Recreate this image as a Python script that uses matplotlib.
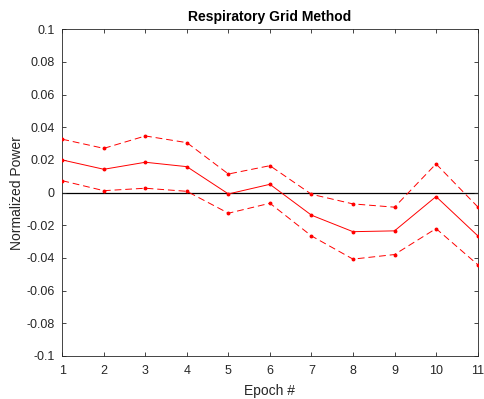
import matplotlib.pyplot as plt

plt.rcParams['font.family'] = ['Liberation Sans', 'DejaVu Sans']

# Data
epochs = [1, 2, 3, 4, 5, 6, 7, 8, 9, 10, 11]
mean_power = [0.0200, 0.0143, 0.0186, 0.0159, -0.0008, 0.0051,
              -0.0138, -0.0239, -0.0234, -0.0024, -0.0263]
upper_power = [0.0327, 0.0271, 0.0347, 0.0306, 0.0114, 0.0165,
               -0.0010, -0.0069, -0.0089, 0.0176, -0.0086]
lower_power = [0.0073, 0.0012, 0.0027, 0.0008, -0.0126, -0.0065,
               -0.0265, -0.0407, -0.0379, -0.0220, -0.0440]
y_ticks = [-0.1, -0.08, -0.06, -0.04, -0.02, 0, 0.02, 0.04, 0.06, 0.08, 0.1]
y_tick_labels = ['-0.1', '-0.08', '-0.06', '-0.04', '-0.02', '0',
                 '0.02', '0.04', '0.06', '0.08', '0.1']

fig = plt.figure(figsize=(4.84, 3.99), dpi=100)
ax = fig.add_axes([0.1287, 0.1078, 0.858, 0.8188])

ax.axhline(0, color='black', lw=0.9, zorder=1)
ax.plot(epochs, mean_power, color='red', lw=0.7, marker='o', ms=1.8, zorder=3)
ax.plot(epochs, upper_power, color='red', lw=0.7, ls=(0, (7, 4)),
        marker='o', ms=1.8, zorder=3)
ax.plot(epochs, lower_power, color='red', lw=0.7, ls=(0, (7, 4)),
        marker='o', ms=1.8, zorder=3)

ax.set_xlim(1, 11)
ax.set_ylim(-0.1, 0.1)
ax.set_xticks(epochs)
ax.set_yticks(y_ticks)
ax.set_yticklabels(y_tick_labels)

ax.tick_params(direction='in', top=True, right=True, length=3, width=0.6,
               labelsize=9, colors='#262626')
ax.tick_params(axis='x', pad=6.5)
ax.tick_params(axis='y', pad=5.5)
for s in ax.spines.values():
    s.set_color('#262626')
    s.set_linewidth(0.6)

ax.set_xlabel('Epoch #', fontsize=10, color='#262626', labelpad=5)
ax.set_ylabel('Normalized Power', fontsize=10, color='#262626', labelpad=1.5)
ax.set_title('Respiratory Grid Method', fontsize=10, fontweight='bold', pad=6)

fig.savefig('out.png', dpi=100)
